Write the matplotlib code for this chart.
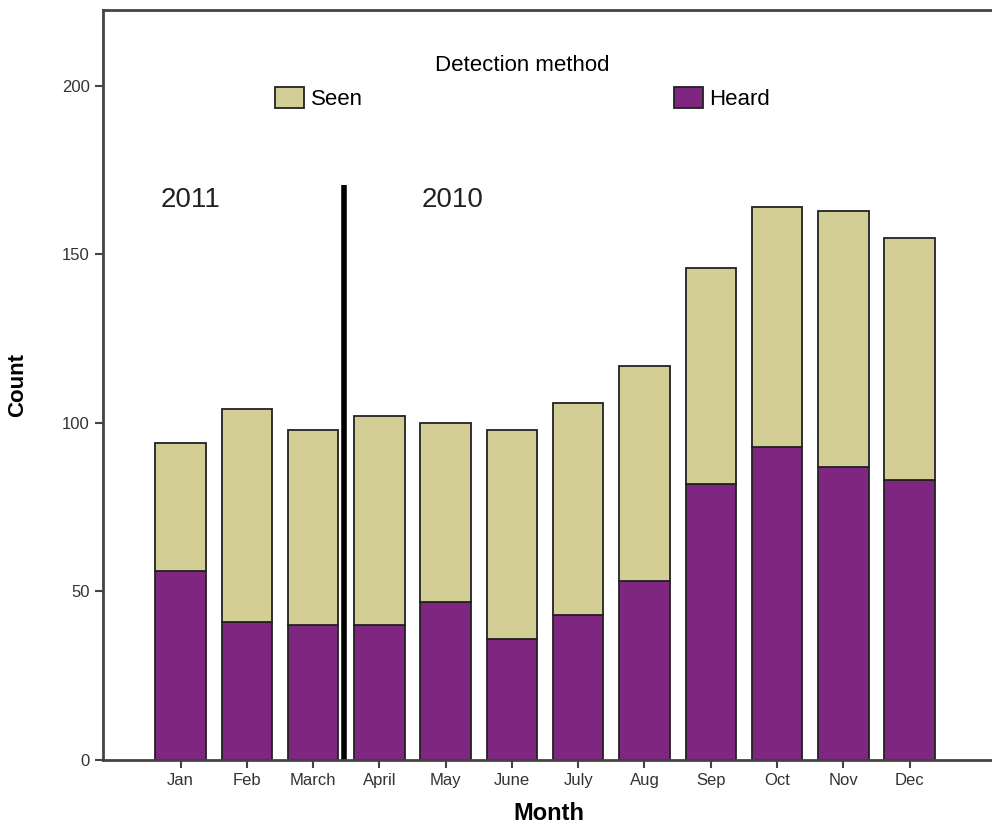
import numpy as np
import matplotlib.pyplot as plt

plt.rcParams['font.family'] = ['Liberation Sans', 'DejaVu Sans']

months = ['Jan', 'Feb', 'March', 'April', 'May', 'June', 'July', 'Aug', 'Sep', 'Oct', 'Nov', 'Dec']
heard = [56, 41, 40, 40, 47, 36, 43, 53, 82, 93, 87, 83]
total = [94, 104, 98, 102, 100, 98, 106, 117, 146, 164, 163, 155]
seen = [t - h for t, h in zip(total, heard)]

seen_color = '#D3CE96'
heard_color = '#7E2680'

fig = plt.figure(figsize=(9.92, 8.25), dpi=100)
ax = fig.add_axes([0.1038, 0.0788, 0.9, 0.909])

x = np.arange(len(months))
ax.bar(x, heard, width=0.76, color=heard_color, edgecolor='#222222', linewidth=1.3, label='Heard')
ax.bar(x, seen, bottom=heard, width=0.76, color=seen_color, edgecolor='#222222', linewidth=1.3, label='Seen')

# year divider between March and April
ax.plot([2.47, 2.47], [0, 170.5], color='black', linewidth=4, solid_capstyle='butt')
ax.text(0.15, 166, '2011', fontsize=20, ha='center', va='center', color='#222222')
ax.text(4.1, 166, '2010', fontsize=20, ha='center', va='center', color='#222222')

ax.set_xlim(-1.17, 12.3)
ax.set_ylim(0, 222.5)
ax.set_xticks(x)
ax.set_xticklabels(months, fontsize=12, color='#333333')
ax.set_yticks([0, 50, 100, 150, 200])
ax.set_yticklabels(['0', '50', '100', '150', '200'], fontsize=12, color='#333333')
ax.tick_params(axis='both', direction='out', length=6, width=1.5, colors='#444444', labelcolor='#333333')
for s in ax.spines.values():
    s.set_linewidth(2)
    s.set_color('#444444')

ax.set_ylabel('Count', fontsize=16, fontweight='bold', labelpad=24)
ax.set_xlabel('Month', fontsize=17, fontweight='bold', labelpad=10)

handles, labels = ax.get_legend_handles_labels()
leg = ax.legend(handles[::-1], labels[::-1], title='Detection method', ncol=2,
                loc='upper center', bbox_to_anchor=(0.47, 0.967), frameon=False,
                fontsize=16, title_fontsize=16, columnspacing=14, handlelength=1.3,
                handleheight=1.1, handletextpad=0.3)

fig.savefig('out.png', dpi=100)
